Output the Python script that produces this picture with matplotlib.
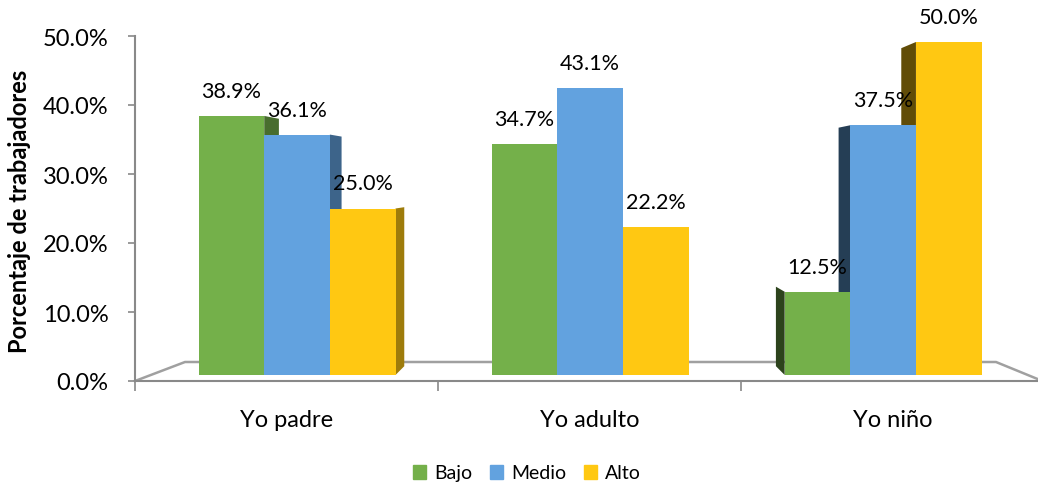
import numpy as np
import matplotlib
matplotlib.use('Agg')
import matplotlib.pyplot as plt
from matplotlib.patches import Polygon, Patch
from matplotlib.ticker import PercentFormatter
import matplotlib.colors as mcolors

plt.rcParams['font.family'] = ['Lato', 'DejaVu Sans']

categories = ['Yo padre', 'Yo adulto', 'Yo niño']
series = ['Bajo', 'Medio', 'Alto']
bajo = [38.9, 34.7, 12.5]
medio = [36.1, 43.1, 37.5]
alto = [25.0, 22.2, 50.0]
colors = ['#74B04A', '#62A2DF', '#FFC812']

W, H = 1038, 485
fig = plt.figure(figsize=(W / 100, H / 100), dpi=100)

# front plane axis (ticks, labels)
left_px, right_px = 135, 1044
ax = fig.add_axes([left_px / W, (H - 382) / H, (right_px - left_px) / W, (382 - 37) / H])
ax.set_xlim(-0.5, 2.5)
ax.set_ylim(0, 50)
ax.yaxis.set_major_formatter(PercentFormatter(decimals=1))
ax.set_yticks(np.arange(0, 51, 10))
ax.set_xticks(range(len(categories)))
ax.set_xticklabels(categories)
ax.set_xticks([-0.5, 0.5, 1.5, 2.5], minor=True)
ax.tick_params(axis='x', which='major', length=0, labelsize=17, pad=20)
ax.tick_params(axis='x', which='minor', length=7, color='#898989', width=1.2)
ax.tick_params(axis='y', length=5, color='#898989', width=1.2, labelsize=17, pad=14)
for s in ['top', 'right']:
    ax.spines[s].set_visible(False)
for s in ['left', 'bottom']:
    ax.spines[s].set_color('#898989')
    ax.spines[s].set_linewidth(1.5)
ax.patch.set_alpha(0)

# floor outline, in pixel-fraction coords of the figure
floor_x = [135, 185, 996, 1040]
floor_y = [382, 363, 363, 381]
fig.add_artist(plt.Line2D([x / W for x in floor_x], [1 - y / H for y in floor_y],
                          color='#A0A0A0', lw=1.8, zorder=0))

# bars axis (slightly different scale, like the 3d projection)
ax2 = fig.add_axes([left_px / W, (H - 376) / H, (right_px - left_px) / W, (376 - 43) / H])
ax2.set_xlim(-0.553, 2.549)
ax2.set_ylim(0, 50)
ax2.axis('off')

width = 0.224
offsets = [-width, 0, width]
vp = (1.0, 29.4)   # vanishing point for the side faces
k = 0.045

def darker(c, f):
    r, g, b = mcolors.to_rgb(c)
    return (r * f, g * f, b * f)

x = np.arange(len(categories))
for si, vals in enumerate([bajo, medio, alto]):
    for ci, v in enumerate(vals):
        xc = x[ci] + offsets[si]
        x0, x1 = xc - width / 2, xc + width / 2
        if abs(xc - vp[0]) > 1e-6:
            if xc < vp[0]:
                xe, f = x1, 0.62
            else:
                xe, f = x0, 0.38
            pts = [(xe, 0), (xe, v)]
            pts.append((xe + k * (vp[0] - xe), v + k * (vp[1] - v)))
            pts.append((xe + k * (vp[0] - xe), 0 + k * (vp[1] - 0)))
            ax2.add_patch(Polygon(pts, closed=True, facecolor=darker(colors[si], f),
                                  edgecolor='none', zorder=1))
    ax2.bar(x + offsets[si], vals, width, color=colors[si], zorder=2, linewidth=0)
    for ci, v in enumerate(vals):
        ax2.annotate(f'{v:.1f}%', (x[ci] + offsets[si], v), xytext=(0, 25),
                     textcoords='offset pixels', ha='center', va='center', fontsize=15.5)

fig.text(20 / W, 1 - 211 / H, 'Porcentaje de trabajadores', rotation=90,
         ha='center', va='center', fontsize=17, fontweight='bold')

handles = [Patch(color=c, label=s) for c, s in zip(colors, series)]
fig.legend(handles=handles, loc='center', bbox_to_anchor=(527 / W, 1 - 474 / H),
           ncol=3, frameon=False, fontsize=14, handlelength=0.7, handleheight=0.7,
           handletextpad=0.4, columnspacing=0.9)

fig.savefig('out.png', dpi=100)
